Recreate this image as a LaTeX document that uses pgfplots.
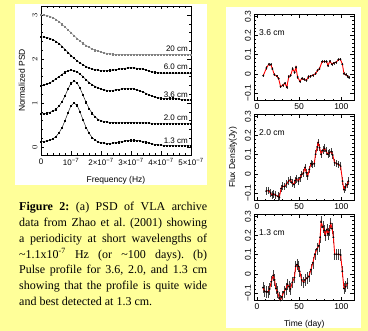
\documentclass[border=0pt]{standalone}
\usepackage{fontspec}
\setmainfont{Liberation Serif}
\setsansfont{Liberation Sans}
\usepackage{pgfplots}
\pgfplotsset{compat=1.18}
\definecolor{bgyellow}{HTML}{FFFF99}
\frenchspacing
\pgfplotsset{
  frame/.style={scale only axis, tick align=inside, xtick pos=both, ytick pos=both,
    major tick length=3.5pt, minor tick length=1.8pt, axis line style={line width=0.5pt},
    every tick/.style={black, line width=0.4pt},
    tick label style={font=\sffamily\fontsize{8}{9}\selectfont},
    yticklabel style={rotate=90, anchor=south},
    label style={font=\sffamily\fontsize{8.5}{10}\selectfont}},
  rp/.style={frame, width=99.5pt, height=86pt, xmin=-3, xmax=115, ymin=-0.14, ymax=0.31,
    xtick={0,50,100}, xticklabels={0,50,100}, minor x tick num=4,
    ytick={-0.1,0,0.1,0.2,0.3}, yticklabels={−0.1,0,0.1,0.2,0.3}, minor y tick num=4,
    tick label style={font=\sffamily\fontsize{8.5}{9}\selectfont}},
  psd/.style={black, line width=0.4pt, mark=square*, mark size=0.55pt},
  eb/.style={only marks, mark=*, mark size=0.7pt, black,
    error bars/.cd, y dir=both, y fixed=#1, error mark=none,
    error bar style={black!75, line width=0.5pt}},
  rl/.style={red, line width=0.9pt, no marks}
}
\begin{document}
\begin{tikzpicture}[x=1pt,y=1pt]
\fill[bgyellow] (0,0) rectangle (368,331);
\useasboundingbox (0,0) rectangle (368,331);
\fill[white] (15,146) rectangle (207,327);
\fill[white] (226.5,3) rectangle (361,323.7);

% ---------- left PSD plot ----------
\begin{axis}[frame, at={(41pt,176pt)}, anchor=south west, width=150pt, height=149pt,
  xmin=0, xmax=5, ymin=-0.18, ymax=3.2045,
  xtick={0,1,2,3,4,5},
  xticklabels={0,10\textsuperscript{−7},2×10\textsuperscript{−7},3×10\textsuperscript{−7},4×10\textsuperscript{−7},5×10\textsuperscript{−7}},
  minor x tick num=4, ytick={0,1,2,3}, minor y tick num=4,
  xlabel={Frequency (Hz)}, ylabel={Normalized PSD},
  xlabel style={at={(axis description cs:0.5,-0.168)}, anchor=center},
  ylabel style={at={(axis description cs:-0.127,0.5)}, anchor=center}]
\addplot[psd, gray, mark options={gray}] coordinates {
(0,3.0)(0.1,3.0)(0.2,2.99)(0.3,2.97)(0.4,2.94)(0.5,2.9)(0.6,2.85)(0.7,2.79)(0.8,2.73)(0.9,2.66)
(1.0,2.6)(1.1,2.53)(1.2,2.47)(1.3,2.41)(1.4,2.36)(1.5,2.31)(1.6,2.27)(1.7,2.23)(1.8,2.2)(1.9,2.18)
(2.0,2.16)(2.1,2.14)(2.2,2.13)(2.3,2.12)(2.4,2.11)(2.5,2.1)(2.6,2.1)(2.7,2.1)(2.8,2.1)(2.9,2.1)
(3.0,2.1)(3.1,2.1)(3.2,2.1)(3.3,2.1)(3.4,2.1)(3.5,2.1)(3.6,2.1)(3.7,2.1)(3.8,2.1)(3.9,2.1)
(4.0,2.1)(4.1,2.1)(4.2,2.1)(4.3,2.1)(4.4,2.1)(4.5,2.1)(4.6,2.1)(4.7,2.1)(4.8,2.1)(4.9,2.1)(5.0,2.1)};
\addplot[psd] coordinates {
(0,2.5)(0.1,2.5)(0.2,2.49)(0.3,2.47)(0.4,2.44)(0.5,2.4)(0.6,2.35)(0.7,2.29)(0.8,2.22)(0.9,2.15)
(1.0,2.08)(1.1,2.02)(1.2,1.96)(1.3,1.91)(1.4,1.87)(1.5,1.83)(1.6,1.8)(1.7,1.78)(1.8,1.76)(1.9,1.75)
(2.0,1.74)(2.1,1.74)(2.2,1.74)(2.3,1.745)(2.4,1.75)(2.5,1.76)(2.6,1.77)(2.7,1.78)(2.8,1.79)(2.9,1.8)
(3.0,1.8)(3.1,1.8)(3.2,1.79)(3.3,1.78)(3.4,1.77)(3.5,1.75)(3.6,1.73)(3.7,1.71)(3.8,1.7)(3.9,1.69)
(4.0,1.68)(4.1,1.68)(4.2,1.68)(4.3,1.68)(4.4,1.68)(4.5,1.68)(4.6,1.68)(4.7,1.68)(4.8,1.68)(4.9,1.68)(5.0,1.68)};
\addplot[psd] coordinates {
(0,1.40)(0.1,1.41)(0.2,1.43)(0.3,1.46)(0.4,1.5)(0.5,1.55)(0.6,1.6)(0.7,1.65)(0.8,1.7)(0.9,1.73)
(1.0,1.75)(1.1,1.74)(1.2,1.71)(1.3,1.66)(1.4,1.6)(1.5,1.53)(1.6,1.47)(1.7,1.42)(1.8,1.38)(1.9,1.35)
(2.0,1.32)(2.1,1.3)(2.2,1.29)(2.3,1.29)(2.4,1.29)(2.5,1.3)(2.6,1.31)(2.7,1.32)(2.8,1.33)(2.9,1.33)
(3.0,1.33)(3.1,1.32)(3.2,1.3)(3.3,1.28)(3.4,1.25)(3.5,1.22)(3.6,1.19)(3.7,1.16)(3.8,1.14)(3.9,1.12)
(4.0,1.11)(4.1,1.1)(4.2,1.1)(4.3,1.11)(4.4,1.11)(4.5,1.1)(4.6,1.09)(4.7,1.08)(4.8,1.07)(4.9,1.07)(5.0,1.07)};
\addplot[psd] coordinates {
(0,0.75)(0.1,0.76)(0.2,0.77)(0.3,0.79)(0.4,0.82)(0.5,0.86)(0.6,0.93)(0.7,1.03)(0.8,1.16)(0.9,1.32)
(1.0,1.45)(1.1,1.5)(1.2,1.46)(1.3,1.34)(1.4,1.18)(1.5,1.02)(1.6,0.88)(1.7,0.77)(1.8,0.69)(1.9,0.63)
(2.0,0.6)(2.1,0.58)(2.2,0.57)(2.3,0.56)(2.4,0.56)(2.5,0.55)(2.6,0.55)(2.7,0.555)(2.8,0.56)(2.9,0.56)
(3.0,0.56)(3.1,0.56)(3.2,0.555)(3.3,0.55)(3.4,0.55)(3.5,0.55)(3.6,0.545)(3.7,0.54)(3.8,0.54)(3.9,0.54)
(4.0,0.54)(4.1,0.54)(4.2,0.54)(4.3,0.54)(4.4,0.54)(4.5,0.54)(4.6,0.54)(4.7,0.54)(4.8,0.54)(4.9,0.54)(5.0,0.54)};
\addplot[psd] coordinates {
(0,0.12)(0.1,0.13)(0.2,0.14)(0.3,0.16)(0.4,0.19)(0.5,0.24)(0.6,0.32)(0.7,0.44)(0.8,0.6)(0.9,0.78)
(1.0,0.94)(1.1,1.0)(1.2,0.95)(1.3,0.8)(1.4,0.62)(1.5,0.45)(1.6,0.32)(1.7,0.22)(1.8,0.16)(1.9,0.12)
(2.0,0.1)(2.1,0.09)(2.2,0.085)(2.3,0.085)(2.4,0.09)(2.5,0.1)(2.6,0.11)(2.7,0.125)(2.8,0.14)(2.9,0.15)
(3.0,0.155)(3.1,0.155)(3.2,0.15)(3.3,0.14)(3.4,0.125)(3.5,0.11)(3.6,0.09)(3.7,0.075)(3.8,0.06)(3.9,0.05)
(4.0,0.045)(4.1,0.04)(4.2,0.035)(4.3,0.035)(4.4,0.03)(4.5,0.03)(4.6,0.03)(4.7,0.03)(4.8,0.03)(4.9,0.03)(5.0,0.03)};
\begin{scope}[font=\sffamily\fontsize{8}{9}\selectfont]
\node[anchor=east, inner sep=0] at (axis cs:4.9,2.24) {20 cm};
\node[anchor=east, inner sep=0] at (axis cs:4.9,1.82) {6.0 cm};
\node[anchor=east, inner sep=0] at (axis cs:4.9,1.19) {3.6 cm};
\node[anchor=east, inner sep=0] at (axis cs:4.9,0.67) {2.0 cm};
\node[anchor=east, inner sep=0] at (axis cs:4.9,0.14) {1.3 cm};
\end{scope}
\end{axis}

% ---------- right panel 1 (3.6 cm) ----------
\begin{axis}[rp, at={(254.5pt,230.5pt)}, anchor=south west]
\addplot[eb=0.008] coordinates {
(7.4,-0.01)(11.2,0.03)(14.0,0.05)(16.3,0.048)(18.2,0.025)(20.5,-0.005)(23.6,-0.012)(25.6,-0.025)
(27.9,-0.068)(30.6,-0.06)(32.9,-0.05)(35.3,-0.07)(37.6,-0.017)(39.9,-0.008)(42.2,0.025)(44.6,0.008)
(46.1,0.034)(48.1,-0.017)(50.8,-0.04)(53.1,-0.025)(55.8,-0.029)(58.5,-0.034)(60.9,-0.017)(63.6,-0.012)
(66.3,-0.008)(69.4,0)(71.7,0.017)(74.0,0.025)(77.1,0.063)(80.2,0.064)(82.6,0.063)(84.1,0.042)
(86.4,0.066)(88.8,0.05)(91.1,0.056)(93.8,0.06)(96.5,0.073)(98.8,0.076)(101.2,0.05)(103.1,0)
(105.4,-0.005)(107.4,-0.012)(108.9,-0.02)};
\addplot[rl] coordinates {
(7.4,-0.01)(11.2,0.03)(14.0,0.05)(16.3,0.048)(18.2,0.025)(20.5,-0.005)(23.6,-0.012)(25.6,-0.025)
(27.9,-0.068)(30.6,-0.06)(32.9,-0.05)(35.3,-0.07)(37.6,-0.017)(39.9,-0.008)(42.2,0.025)(44.6,0.008)
(46.1,0.034)(48.1,-0.017)(50.8,-0.04)(53.1,-0.025)(55.8,-0.029)(58.5,-0.034)(60.9,-0.017)(63.6,-0.012)
(66.3,-0.008)(69.4,0)(71.7,0.017)(74.0,0.025)(77.1,0.063)(80.2,0.064)(82.6,0.063)(84.1,0.042)
(86.4,0.066)(88.8,0.05)(91.1,0.056)(93.8,0.06)(96.5,0.073)(98.8,0.076)(101.2,0.05)(103.1,0)
(105.4,-0.005)(107.4,-0.012)(108.9,-0.02)};
\node[anchor=west, inner sep=0, font=\sffamily\fontsize{8.5}{9}\selectfont] at (rel axis cs:0.045,0.785) {3.6 cm};
\end{axis}

% ---------- right panel 2 (2.0 cm) ----------
\begin{axis}[rp, at={(254.5pt,130.5pt)}, anchor=south west,
  ylabel={Flux Density(Jy)},
  ylabel style={at={(axis description cs:-0.216,0.5)}, anchor=center}]
\addplot[eb=0.02] coordinates {
(10.9,-0.091)(13.7,-0.088)(16,-0.1)(17.9,-0.112)(19.5,-0.105)(21.8,-0.112)(24.6,-0.118)(26.5,-0.123)
(28.5,-0.077)(30.4,-0.065)(32.8,-0.067)(35.1,-0.053)(37.4,-0.039)(39.8,-0.03)(41.3,-0.047)(43.7,-0.056)
(45.2,-0.035)(46.8,-0.026)(49.1,-0.039)(51.1,-0.021)(53.0,-0.004)(55.0,0.004)(56.9,0.032)(58.5,0.005)
(60.1,-0.012)(62.0,0.023)(64.0,0.053)(65.5,0.049)(67.9,0.053)(69.4,0.102)(71.4,0.14)(72.5,0.163)
(74.1,0.137)(76.1,0.102)(78,0.123)(80,0.133)(81.9,0.119)(83.9,0.102)(85.8,0.11)(88.1,0.116)
(89.7,0.098)(92,0.058)(94.4,0.053)(96.7,0.049)(99.1,0.04)(101.4,-0.039)(103,-0.082)(104.9,-0.07)
(106.9,-0.056)(108.4,-0.039)};
\addplot[rl] coordinates {
(10.9,-0.091)(13.7,-0.088)(16,-0.1)(17.9,-0.112)(19.5,-0.105)(21.8,-0.112)(24.6,-0.118)(26.5,-0.123)
(28.5,-0.077)(30.4,-0.065)(32.8,-0.067)(35.1,-0.053)(37.4,-0.039)(39.8,-0.03)(41.3,-0.047)(43.7,-0.056)
(45.2,-0.035)(46.8,-0.026)(49.1,-0.039)(51.1,-0.021)(53.0,-0.004)(55.0,0.004)(56.9,0.032)(58.5,0.005)
(60.1,-0.012)(62.0,0.023)(64.0,0.053)(65.5,0.049)(67.9,0.053)(69.4,0.102)(71.4,0.14)(72.5,0.163)
(74.1,0.137)(76.1,0.102)(78,0.123)(80,0.133)(81.9,0.119)(83.9,0.102)(85.8,0.11)(88.1,0.116)
(89.7,0.098)(92,0.058)(94.4,0.053)(96.7,0.049)(99.1,0.04)(101.4,-0.039)(103,-0.082)(104.9,-0.07)
(106.9,-0.056)(108.4,-0.039)};
\node[anchor=west, inner sep=0, font=\sffamily\fontsize{8.5}{9}\selectfont] at (rel axis cs:0.045,0.785) {2.0 cm};
\end{axis}

% ---------- right panel 3 (1.3 cm) ----------
\begin{axis}[rp, at={(254.5pt,30.5pt)}, anchor=south west,
  xlabel={Time (day)},
  xlabel style={at={(axis description cs:0.5,-0.273)}, anchor=center}]
\addplot[eb=0.03] coordinates {
(7.1,-0.073)(9.0,-0.091)(11.0,-0.095)(12.9,-0.095)(14.9,-0.08)(16.9,-0.041)(19.2,-0.009)(20.8,-0.032)
(22.3,-0.077)(24.3,-0.095)(26.3,-0.127)(27.8,-0.139)(29.4,-0.121)(31.8,-0.095)(34.1,-0.08)(36.1,-0.055)
(38.0,-0.068)(39.6,-0.08)(41.9,-0.045)(44.3,-0.02)(45.9,0.039)(47.4,0.048)(49.0,0.039)(50.6,0.013)
(52.9,-0.032)(55.3,-0.045)(56.8,-0.032)(59.2,-0.023)(61.5,-0.014)(63.9,0.021)(66.2,0.057)(68.6,0.102)
(71.0,0.129)(73.3,0.146)(74.9,0.191)(76.0,0.271)(78.0,0.245)(79.6,0.227)(81.1,0.2)(82.7,0.23)
(84.3,0.209)(85.8,0.227)(87.4,0.263)(89.0,0.236)(90.6,0.191)(92.1,0.102)(94.5,0.102)(96.8,0.102)
(99.2,0.098)(101.1,0.013)(103.1,-0.077)(105.1,-0.068)(107.0,-0.05)};
\addplot[rl] coordinates {
(7.1,-0.073)(9.0,-0.091)(11.0,-0.095)(12.9,-0.095)(14.9,-0.08)(16.9,-0.041)(19.2,-0.009)(20.8,-0.032)
(22.3,-0.077)(24.3,-0.095)(26.3,-0.127)(27.8,-0.139)(29.4,-0.121)(31.8,-0.095)(34.1,-0.08)(36.1,-0.055)
(38.0,-0.068)(39.6,-0.08)(41.9,-0.045)(44.3,-0.02)(45.9,0.039)(47.4,0.048)(49.0,0.039)(50.6,0.013)
(52.9,-0.032)(55.3,-0.045)(56.8,-0.032)(59.2,-0.023)(61.5,-0.014)(63.9,0.021)(66.2,0.057)(68.6,0.102)
(71.0,0.129)(73.3,0.146)(74.9,0.191)(76.0,0.271)(78.0,0.245)(79.6,0.227)(81.1,0.2)(82.7,0.23)
(84.3,0.209)(85.8,0.227)(87.4,0.263)(89.0,0.236)(90.6,0.191)(92.1,0.102)(94.5,0.102)(96.8,0.102)
(99.2,0.098)(101.1,0.013)(103.1,-0.077)(105.1,-0.068)(107.0,-0.05)};
\node[anchor=west, inner sep=0, font=\sffamily\fontsize{8.5}{9}\selectfont] at (rel axis cs:0.045,0.785) {1.3 cm};
\end{axis}

% ---------- caption ----------
\begin{scope}[every node/.style={anchor=base west, inner sep=0, font=\fontsize{12}{14}\selectfont}]
\node at (19,120.3) {\makebox[188pt][s]{\textbf{Figure 2:} (a) PSD of VLA archive}};
\node at (19,104.5) {\makebox[188pt][s]{data from Zhao et al. (2001) showing}};
\node at (19,88.7) {\makebox[188pt][s]{a periodicity at short wavelengths of}};
\node at (19,72.9) {\makebox[188pt][s]{\textasciitilde1.1x10\textsuperscript{-7} Hz (or \textasciitilde100 days). (b)}};
\node at (19,57.1) {\makebox[188pt][s]{Pulse profile for 3.6, 2.0, and 1.3 cm}};
\node at (19,41.3) {\makebox[188pt][s]{showing that the profile is quite wide}};
\node at (19,25.5) {and best detected at 1.3 cm.};
\end{scope}
\end{tikzpicture}
\end{document}
